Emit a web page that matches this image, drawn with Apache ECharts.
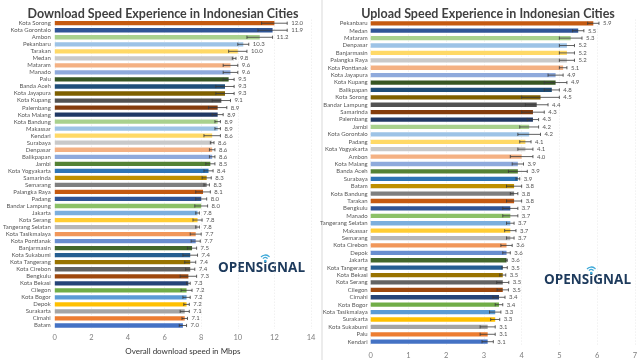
<!DOCTYPE html>
<html><head><meta charset="utf-8">
<script src="https://cdn.jsdelivr.net/npm/echarts@6/dist/echarts.min.js"></script>
<style>html,body{margin:0;padding:0;background:#fff}#c{width:640px;height:360px}</style>
</head><body><div id="c"></div>
<script>
// ---------- DATA ----------
const dlCities = ["Kota Sorong","Kota Gorontalo","Ambon","Pekanbaru","Tarakan","Medan","Mataram","Manado","Palu","Banda Aceh","Kota Jayapura","Kota Kupang","Palembang","Kota Malang","Kota Bandung","Makassar","Kendari","Surabaya","Denpasar","Balikpapan","Jambi","Kota Yogyakarta","Samarinda","Semarang","Palangka Raya","Padang","Bandar Lampung","Jakarta","Kota Serang","Tangerang Selatan","Kota Tasikmalaya","Kota Pontianak","Banjarmasin","Kota Sukabumi","Kota Tangerang","Kota Cirebon","Bengkulu","Kota Bekasi","Cilegon","Kota Bogor","Depok","Surakarta","Cimahi","Batam"];
const dlValues = [12.0,11.9,11.2,10.3,10.0,9.8,9.6,9.6,9.5,9.3,9.3,9.1,8.9,8.9,8.9,8.9,8.6,8.6,8.6,8.6,8.5,8.4,8.3,8.3,8.1,8.0,8.0,7.8,7.8,7.8,7.7,7.7,7.5,7.4,7.4,7.4,7.3,7.3,7.2,7.2,7.2,7.1,7.1,7.0];
const dlLow  = [11.3,11.1,10.5,10.0,9.5,9.7,9.2,9.2,9.2,8.8,8.8,8.6,8.4,8.6,8.75,8.75,8.15,8.5,8.45,8.45,8.25,8.15,8.05,8.15,7.7,7.7,7.65,7.7,7.55,7.7,7.4,7.45,7.25,7.0,7.1,7.15,6.85,7.2,6.9,7.0,7.05,6.85,6.95,6.8];
const dlHigh = [12.7,12.7,11.9,10.6,10.5,9.9,10.0,10.0,9.8,9.8,9.8,9.6,9.4,9.2,9.05,9.05,9.05,8.7,8.75,8.75,8.75,8.65,8.55,8.45,8.5,8.3,8.35,7.9,8.05,7.9,8.0,7.95,7.75,7.8,7.7,7.65,7.75,7.4,7.5,7.4,7.35,7.35,7.25,7.2];

const ulCities = ["Pekanbaru","Medan","Mataram","Denpasar","Banjarmasin","Palangka Raya","Kota Pontianak","Kota Jayapura","Kota Kupang","Balikpapan","Kota Sorong","Bandar Lampung","Samarinda","Palembang","Jambi","Kota Gorontalo","Padang","Kota Yogyakarta","Ambon","Kota Malang","Banda Aceh","Surabaya","Batam","Kota Bandung","Tarakan","Bengkulu","Manado","Tangerang Selatan","Makassar","Semarang","Kota Cirebon","Depok","Jakarta","Kota Tangerang","Kota Bekasi","Kota Serang","Cilegon","Cimahi","Kota Bogor","Kota Tasikmalaya","Surakarta","Kota Sukabumi","Palu","Kendari"];
const ulValues = [5.9,5.5,5.3,5.2,5.2,5.2,5.1,4.9,4.9,4.8,4.5,4.4,4.3,4.3,4.2,4.2,4.1,4.1,4.0,3.9,3.9,3.9,3.8,3.8,3.8,3.7,3.7,3.7,3.7,3.7,3.6,3.6,3.6,3.5,3.5,3.5,3.5,3.4,3.4,3.3,3.3,3.1,3.1,3.1];
const ulLow  = [5.75,5.35,5.0,5.0,5.0,5.0,5.0,4.7,4.6,4.6,4.0,4.1,4.0,4.15,3.95,3.9,3.95,3.9,3.7,3.75,3.65,3.85,3.6,3.7,3.6,3.5,3.5,3.6,3.55,3.6,3.45,3.5,3.58,3.48,3.42,3.34,3.35,3.24,3.3,3.15,3.18,2.9,2.9,2.95];
const ulHigh = [6.05,5.65,5.6,5.4,5.4,5.4,5.2,5.1,5.2,5.0,5.0,4.7,4.6,4.45,4.45,4.5,4.25,4.3,4.3,4.05,4.15,3.95,4.0,3.9,4.0,3.9,3.9,3.8,3.85,3.8,3.75,3.7,3.62,3.62,3.58,3.66,3.65,3.56,3.5,3.45,3.42,3.3,3.3,3.25];

const dlTicks = [0,2,4,6,8,10,12,14];
const ulTicks = [0,1,2,3,4,5,6,7];

// ---------- STYLE ----------
const palette = ["#C55A11","#2F5597","#A9D18E","#9DC3E6","#FFD966","#C9C9C9","#F4B183","#8FAADC","#375623","#1F4E79","#7F6000","#525252",
"#843C0C","#203864","#A9D18E","#9DC3E6","#FFD966","#C9C9C9","#F4B183","#8FAADC","#548235","#2E75B6","#BF9000","#7F7F7F",
"#C55A11","#2F5597","#8CC168","#7CAFDD","#FFCD33","#B7B7B7","#F1975A","#698ED0","#43682B","#255E91","#997300","#636363",
"#9E480E","#264478","#70AD47","#5B9BD5","#FFC000","#A5A5A5","#ED7D31","#4472C4"];
const FONT = 'Lato, "Open Sans", sans-serif';
const LOGO_FONT = 'bold 13.5px "Open Sans", sans-serif';

function errRender(params, api) {
  const i = api.value(0);
  const lo = api.coord([api.value(1), i]);
  const hi = api.coord([api.value(2), i]);
  const h = 3.2;
  const st = {stroke:'#3a3a3a', lineWidth:0.8};
  return {type:'group', children:[
    {type:'line', shape:{x1:lo[0],y1:lo[1],x2:hi[0],y2:hi[1]}, style:st},
    {type:'line', shape:{x1:lo[0],y1:lo[1]-h/2,x2:lo[0],y2:lo[1]+h/2}, style:st},
    {type:'line', shape:{x1:hi[0],y1:hi[1]-h/2,x2:hi[0],y2:hi[1]+h/2}, style:st},
    {type:'text', x:hi[0]+4, y:hi[1], style:{text:api.value(3).toFixed(1), fontSize:6, fill:'#555', fontFamily:FONT, verticalAlign:'middle', align:'left'}}
  ]};
}
function errData(vals, lo, hi) { return vals.map((v,i)=>[i, lo[i], hi[i], v]); }

// logo helper
const mctx = document.createElement('canvas').getContext('2d');
mctx.font = LOGO_FONT;
const wPre = mctx.measureText('OPENS').width;
const wI = mctx.measureText('i').width;
function logo(x, y) {
  const cx = x + wPre + wI/2;
  const cy = y - 7.5;
  const arcs = [3, 5.5].map(r => ({type:'arc', shape:{cx:cx, cy:cy, r:r, startAngle:-Math.PI*0.78, endAngle:-Math.PI*0.22},
    style:{stroke:'#3fa9d8', lineWidth:1.3, fill:null}}));
  return [
    {type:'text', x:x, y:y, style:{text:'OPENSiGNAL', font:LOGO_FONT, fill:'#1d3a5c', verticalAlign:'middle'}},
    {type:'circle', shape:{cx:cx, cy:cy+0.5, r:1.3}, style:{fill:'#3fa9d8'}}
  ].concat(arcs);
}

const chart = echarts.init(document.getElementById('c'), null, {renderer:'canvas'});
const catAxis = (cats, gi) => ({
  type:'category', gridIndex:gi, data:cats, inverse:true,
  axisLine:{show:false}, axisTick:{show:false},
  axisLabel:{interval:0, fontSize:6, color:'#595959', fontFamily:FONT, margin:gi===0?4:3}
});
const valAxis = (ticks, gi, name) => ({
  type:'value', gridIndex:gi, min:ticks[0], max:ticks[ticks.length-1], interval:ticks[1]-ticks[0],
  axisLine:{show:false}, axisTick:{show:false},
  splitLine:{show:true, lineStyle:{color:'#e4e4e4', type:[1,2], width:0.8}},
  axisLabel:{fontSize:7.5, color:'#7f7f7f', fontFamily:FONT, margin:gi===0?5:6},
  name:name, nameLocation:'middle', nameGap:18,
  nameTextStyle:{fontSize:8, color:'#333', fontFamily:FONT}
});

chart.setOption({
  animation:false,
  backgroundColor:'#fff',
  title:[
    {text:'Download Speed Experience in Indonesian Cities', left:158, top:2, textAlign:'center',
     textStyle:{fontSize:12.5, fontWeight:'bold', color:'#404040', fontFamily:FONT}},
    {text:'Upload Speed Experience in Indonesian Cities', left:483, top:2, textAlign:'center',
     textStyle:{fontSize:12.5, fontWeight:'bold', color:'#404040', fontFamily:FONT}}
  ],
  grid:[
    {left:46, right:329, top:19.7, height:317.2, containLabel:false},
    {left:370.7, right:3.3, top:19.6, height:325.8, containLabel:false}
  ],
  xAxis:[valAxis(dlTicks,0,'Overall download speed in Mbps'), valAxis(ulTicks,1,'')],
  yAxis:[catAxis(dlCities,0), catAxis(ulCities,1)],
  series:[
    {type:'bar', xAxisIndex:0, yAxisIndex:0, data:dlValues, barWidth:4.3,
     itemStyle:{color:p=>palette[p.dataIndex]}},
    {type:'custom', xAxisIndex:0, yAxisIndex:0, renderItem:errRender, data:errData(dlValues,dlLow,dlHigh),
     encode:{y:0, x:[1,2]}, z:5},
    {type:'bar', xAxisIndex:1, yAxisIndex:1, data:ulValues, barWidth:4.3,
     itemStyle:{color:p=>palette[p.dataIndex]}},
    {type:'custom', xAxisIndex:1, yAxisIndex:1, renderItem:errRender, data:errData(ulValues,ulLow,ulHigh),
     encode:{y:0, x:[1,2]}, z:5}
  ],
  graphic:[
    {type:'line', shape:{x1:322,y1:0,x2:322,y2:360}, style:{stroke:'#d9d9d9', lineWidth:1}}
  ].concat(logo(218, 268), logo(544, 280))
});
</script></body></html>
